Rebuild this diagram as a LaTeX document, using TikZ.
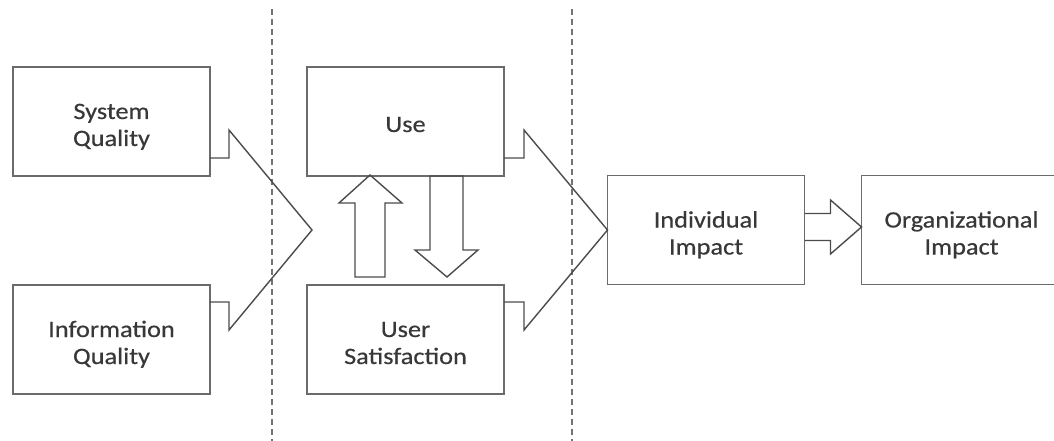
\documentclass[tikz,border=0pt]{standalone}
\usepackage{fontspec}
\setmainfont{Carlito}[FakeStretch=1.12,FakeBold=0.4]
\usetikzlibrary{positioning}
\definecolor{linegray}{rgb}{0.42,0.42,0.42}
\definecolor{textgray}{rgb}{0.22,0.22,0.22}

\begin{document}
\begin{tikzpicture}[x=1pt,y=-1pt,semithick]
	  \tikzstyle{box}=[rectangle,draw=linegray,line width=1.8pt,fill=white,minimum width=197pt,minimum height=109pt,inner sep=0pt,outer sep=0pt,align=center,text=textgray,text height=55pt,text depth=6pt,font=\fontsize{23.5pt}{27pt}\selectfont]
	  \tikzstyle{outline}=[draw=black!70,line width=1.4pt,line join=miter]
	  \tikzstyle{divider}=[draw=black!55,line width=1.8pt,dash pattern=on 6pt off 4pt]

	  \useasboundingbox[fill=white] (0,0) rectangle (1054,441);

	  \draw[divider] (272,9) -- (272,441);
	  \draw[divider] (572,9) -- (572,441);

	  \node[box] (sq) at (111.5,121.5) {System\\Quality};
	  \node[box] (iq) [below=109pt of sq] {Information\\Quality};
	  \node[box,text height=31pt,text depth=10pt] (use) [right=97pt of sq] {Use};
	  \node[box] (sat) [below=109pt of use] {User\\Satisfaction};
	  \node[box] (ind) at (706,230) {Individual\\Impact};
	  \node[box,minimum width=200pt] (org) [right=57pt of ind] {Organizational\\Impact};

	  \coordinate (tip1) at (312,230);

	  \draw[outline] ([yshift=18pt]sq.south east) -| ([xshift=19pt,yshift=46pt]sq.south east)
	  -- (tip1) -- ([xshift=19pt,yshift=-45pt]iq.north east) |- ([yshift=-17pt]iq.north east);

	  \draw[outline] ([yshift=18pt]use.south east) -| ([xshift=20pt,yshift=46pt]use.south east)
	  -- (ind.west) -- ([xshift=20pt,yshift=-45pt]sat.north east) |- ([yshift=-17pt]sat.north east);

	  \draw[outline] ([xshift=48pt,yshift=8pt]sat.north west) -- ++(0,-74) -- ++(-16,0)
	  -- ++(31,-28) -- ++(32,28) -- ++(-17,0) -- ++(0,74) -- cycle;
	  \draw[outline] ([xshift=123pt]use.south west) -- ++(0,74) -- ++(-15,0)
	  -- ++(32,27) -- ++(31,-27) -- ++(-15,0) -- ++(0,-74) -- cycle;

	  \draw[outline] ([yshift=16.5pt]ind.east) -- ++(26,0) -- ++(0,-13.5)
	  -- ([yshift=3pt]org.west) -- ++(-31,27) -- ++(0,-13.5) -- ++(-26,0);
	\end{tikzpicture}
\end{document}
